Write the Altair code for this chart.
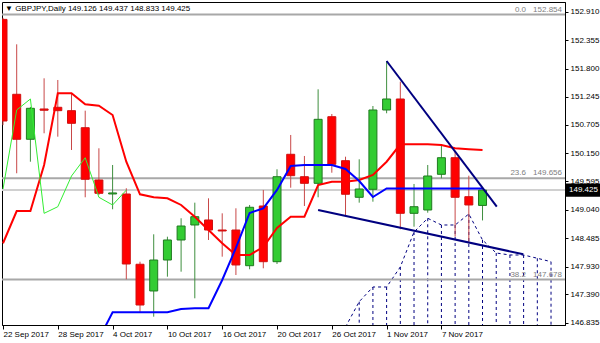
import altair as alt
import pandas as pd

# ---------------- data ----------------
dates = ["22 Sep 2017", "25 Sep 2017", "26 Sep 2017", "27 Sep 2017", "28 Sep 2017",
         "29 Sep 2017", "2 Oct 2017", "3 Oct 2017", "4 Oct 2017", "5 Oct 2017",
         "6 Oct 2017", "9 Oct 2017", "10 Oct 2017", "11 Oct 2017", "12 Oct 2017",
         "13 Oct 2017", "16 Oct 2017", "17 Oct 2017", "18 Oct 2017", "19 Oct 2017",
         "20 Oct 2017", "23 Oct 2017", "24 Oct 2017", "25 Oct 2017", "26 Oct 2017",
         "27 Oct 2017", "30 Oct 2017", "31 Oct 2017", "1 Nov 2017", "2 Nov 2017",
         "3 Nov 2017", "6 Nov 2017", "7 Nov 2017", "8 Nov 2017", "9 Nov 2017",
         "10 Nov 2017"]
opens = [152.760, 151.297, 150.418, 151.010, 151.043, 150.977, 150.644, 149.623, 149.350, 149.349,
         147.977, 147.455, 148.060, 148.451, 148.744, 148.842, 148.646, 148.646, 147.949, 149.115,
         148.027, 150.125, 149.687, 149.558, 150.859, 150.000, 149.285, 149.441, 150.990, 151.205,
         148.972, 149.037, 149.734, 150.058, 149.297, 149.126]
highs = [152.790, 152.273, 151.050, 151.609, 151.576, 151.316, 150.977, 150.242, 149.916, 149.461,
         148.027, 148.562, 148.515, 148.875, 149.180, 149.265, 148.972, 149.070, 149.135, 149.428,
         149.832, 150.502, 150.092, 151.394, 150.912, 150.078, 150.027, 151.068, 151.947, 151.543,
         149.545, 149.916, 150.320, 150.176, 149.707, 149.437]
lows = [150.695, 149.754, 149.980, 150.535, 150.469, 150.209, 149.285, 149.330, 149.051, 147.683,
        147.031, 146.953, 147.734, 147.832, 147.312, 148.451, 148.125, 147.767, 147.879, 147.898,
        147.982, 149.472, 149.115, 149.285, 149.765, 148.939, 149.180, 149.199, 150.926, 148.660,
        148.711, 148.984, 149.656, 148.515, 148.387, 148.833]
closes = [150.775, 150.418, 151.023, 150.985, 150.977, 150.730, 149.637, 149.363, 149.370, 147.982,
          147.181, 148.060, 148.451, 148.724, 148.906, 148.646, 148.627, 147.963, 149.090, 148.027,
          149.687, 149.707, 149.558, 150.808, 149.930, 149.344, 149.447, 150.990, 151.205, 148.972,
          149.101, 149.701, 150.058, 149.285, 149.135, 149.425]

tenkan = [148.387, 149.017, 149.017, 149.916, 151.316, 151.316, 151.101, 151.074, 150.892, 149.980,
          149.344, 149.285, 149.266, 149.135, 148.906, 148.646, 148.387, 148.158, 148.158, 148.314,
          148.685, 148.906, 148.906, 149.525, 149.590, 149.590, 149.623, 149.721, 149.980, 150.320,
          150.320, 150.320, 150.306, 150.242, 150.223, 150.209]
kijun_start = 7
kijun = [146.517, 147.039, 147.039, 147.039, 147.039, 147.039, 147.103, 147.117, 147.117, 147.670,
         148.295, 148.979, 149.070, 149.428, 149.896, 149.916, 149.916, 149.916, 149.838, 149.603,
         149.291, 149.457, 149.457, 149.457, 149.457, 149.457, 149.457, 149.457, 149.457]
chikou = [149.447, 150.990, 151.205, 148.972, 149.101, 149.701, 150.058, 149.285, 149.135, 149.425]
cloud_start = 25
cloud_top = [146.752, 147.246, 147.533, 147.533, 147.924, 148.607, 148.875, 148.744, 148.744, 148.959,
             148.451, 148.197, 148.158, 148.158, 148.094, 148.027]

trend1_x = [28.0, 36.04]
trend1_p = [151.947, 149.101]
trend2_x = [23.0, 37.98]
trend2_p = [149.037, 148.172]

fib_levels = ["0.0", "23.6", "38.2"]
fib_prices = [152.854, 149.656, 147.678]
last_price = 149.425
header = "\u25bc GBPJPY,Daily  149.126 149.437 148.833 149.425"
y_ticks = [146.835, 147.390, 147.930, 148.485, 149.040, 149.595, 150.150, 150.705,
           151.245, 151.800, 152.355, 152.910]
x_ticks = list(range(0, 36, 4))
x_labels = [dates[i] for i in x_ticks]

# ---------------- frames ----------------
candles = pd.DataFrame({"i": range(len(dates)), "date": dates, "o": opens, "h": highs,
                        "l": lows, "c": closes})
candles["dir"] = ["up" if c >= o else "down" for o, c in zip(opens, closes)]
tk = pd.DataFrame({"i": range(len(tenkan)), "p": tenkan})
kj = pd.DataFrame({"i": range(kijun_start, kijun_start + len(kijun)), "p": kijun})
ch = pd.DataFrame({"i": range(len(chikou)), "p": chikou})
cl = pd.DataFrame({"i": range(cloud_start, cloud_start + len(cloud_top)), "p": cloud_top})
t1 = pd.DataFrame({"i": trend1_x, "p": trend1_p})
t2 = pd.DataFrame({"i": trend2_x, "p": trend2_p})
fib = pd.DataFrame({"lvl": fib_levels, "p": fib_prices, "ptxt": [f"{v:.3f}" for v in fib_prices]})
last = pd.DataFrame({"p": [last_price], "txt": [f"{last_price:.3f}"]})
hdr = pd.DataFrame({"t": [header]})

YMIN, YMAX = 146.7905, 153.0995
XMIN, XMAX = -0.073, 41.02
FONT = "Liberation Sans"

label_expr = "[" + ",".join(f"'{s}'" for s in x_labels) + "][round(datum.value/4)]"

xs = alt.Scale(domain=[XMIN, XMAX], nice=False, zero=False, padding=0)
ys = alt.Scale(domain=[YMIN, YMAX], nice=False, zero=False, padding=0)

def X(field="i"):
    return alt.X(f"{field}:Q", scale=xs, title=None,
                 axis=alt.Axis(values=x_ticks, labelExpr=label_expr, labelAlign="left",
                               labelBaseline="top", labelPadding=1, tickSize=4,
                               labelFont=FONT, labelFontSize=8, labelColor="black",
                               tickColor="black", domainColor="black", grid=False,
                               labelOverlap=False, labelFlush=False))

def Y(field="p"):
    return alt.Y(f"{field}:Q", scale=ys, title=None,
                 axis=alt.Axis(orient="right", values=y_ticks, format=".3f", labelPadding=2,
                               tickSize=3, labelFont=FONT, labelFontSize=8,
                               labelColor="black", tickColor="black", domainColor="black",
                               grid=False, labelOverlap=False, labelFlush=False))

# cloud
cloud_rules = alt.Chart(cl).transform_calculate(base=str(YMIN)).mark_rule(
    color="#000080", strokeWidth=1, strokeDash=[3, 3], clip=True
).encode(x=X(), y=Y(), y2="base:Q")
cloud_line = alt.Chart(cl).mark_line(color="#000080", strokeWidth=1, strokeDash=[3, 3],
                                     clip=True).encode(x=X(), y=Y())

# fib and price lines
fib_lines = alt.Chart(fib).mark_rule(color="#a8a8a8", strokeWidth=2).encode(y=Y())
last_line = alt.Chart(last).mark_rule(color="#d0d0d0", strokeWidth=2).encode(y=Y())
fib_lvl_txt = alt.Chart(fib).mark_text(align="right", baseline="bottom", dy=-1, font=FONT,
                                       fontSize=8, color="#808080").encode(
    y=Y(), x=alt.value(524), text="lvl:N")
fib_p_txt = alt.Chart(fib).mark_text(align="right", baseline="bottom", dy=-1, font=FONT,
                                     fontSize=8, color="#808080").encode(
    y=Y(), x=alt.value(560), text="ptxt:N")

# indicator lines
tk_line = alt.Chart(tk).mark_line(color="#ff0000", strokeWidth=2, clip=True).encode(x=X(), y=Y())
kj_line = alt.Chart(kj).mark_line(color="#0000ff", strokeWidth=2, clip=True).encode(x=X(), y=Y())
ch_line = alt.Chart(ch).mark_line(color="#33ee33", strokeWidth=1, clip=True).encode(x=X(), y=Y())

# candles
base = alt.Chart(candles)
wick_up = base.transform_filter("datum.dir == 'up'").mark_rule(
    color="#3f8f3f", strokeWidth=1, clip=True).encode(x=X(), y=Y("l"), y2="h:Q")
wick_dn = base.transform_filter("datum.dir == 'down'").mark_rule(
    color="#c84848", strokeWidth=1, clip=True).encode(x=X(), y=Y("l"), y2="h:Q")
body_up = base.transform_filter("datum.dir == 'up'").mark_bar(
    size=8, fill="#33cc33", stroke="#1f7a1f", strokeWidth=1, clip=True).encode(
    x=X(), y=Y("o"), y2="c:Q")
body_dn = base.transform_filter("datum.dir == 'down'").mark_bar(
    size=8, fill="#ff0000", stroke="#d01010", strokeWidth=1, clip=True).encode(
    x=X(), y=Y("o"), y2="c:Q")

# trend lines
tl1 = alt.Chart(t1).mark_line(color="#000080", strokeWidth=2).encode(x=X(), y=Y())
tl2 = alt.Chart(t2).mark_line(color="#000080", strokeWidth=2).encode(x=X(), y=Y())

# header and price box
hdr_txt = alt.Chart(hdr).mark_text(align="left", baseline="middle", font=FONT, fontSize=8,
                                   color="black").encode(x=alt.value(3), y=alt.value(7),
                                                         text="t:N")
box = alt.Chart(last).transform_calculate(
    lo="datum.p - 0.128", hi="datum.p + 0.128"
).mark_rect(color="black", clip=False).encode(
    y=Y("lo"), y2="hi:Q", x=alt.value(564), x2=alt.value(600))
box_txt = alt.Chart(last).mark_text(align="left", baseline="middle", font=FONT, fontSize=8,
                                    color="white").encode(y=Y(), x=alt.value(567), text="txt:N")

chart = alt.layer(
    cloud_rules, cloud_line, fib_lines, last_line,
    wick_up, wick_dn, body_up, body_dn,
    tk_line, kj_line, ch_line, tl1, tl2,
    fib_lvl_txt, fib_p_txt, hdr_txt, box, box_txt
).properties(
    width=563, height=323,
    autosize=alt.AutoSizeParams(type="none"),
    padding={"left": 2, "top": 2, "right": 35, "bottom": 18},
    background="white",
).configure_view(stroke="black", strokeWidth=1)

chart.save("out.html", embed_options={"renderer": "svg", "actions": False})
